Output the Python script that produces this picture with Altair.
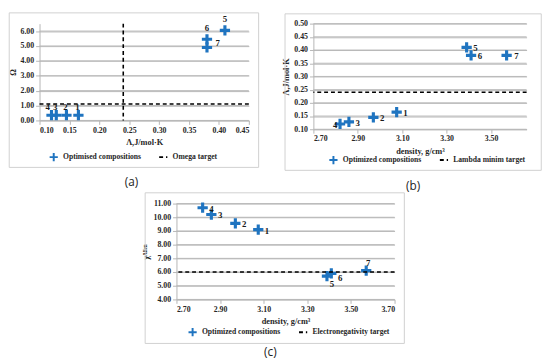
import altair as alt
import pandas as pd

# ---- data ----
ids = ["1", "2", "3", "4", "5", "6", "7"]
lambda_vals = [0.165, 0.145, 0.128, 0.120, 0.41, 0.38, 0.38]
omega_vals = [0.35, 0.35, 0.35, 0.35, 6.05, 5.45, 4.90]
density_vals = [3.075, 2.97, 2.86, 2.82, 3.39, 3.41, 3.57]
chi_vals = [9.10, 9.55, 10.20, 10.70, 5.70, 5.90, 6.10]

omega_target_h = [1.1]
omega_target_v = [0.24]
lambda_target = [0.24]
chi_target = [6.0]

x_ticks_a = [0.10, 0.15, 0.20, 0.25, 0.30, 0.35, 0.40, 0.45]
y_ticks_a = [0, 1, 2, 3, 4, 5, 6]
x_ticks_b = [2.70, 2.90, 3.10, 3.30, 3.50]
y_ticks_b = [0.10, 0.15, 0.20, 0.25, 0.30, 0.35, 0.40, 0.45, 0.50]
x_ticks_c = [2.70, 2.90, 3.10, 3.30, 3.50, 3.70]
y_ticks_c = [4, 5, 6, 7, 8, 9, 10, 11]

BLUE = "#1f74c0"
AXIS = "#b5b5b5"
GRID = "#b8b8b8"
FRAME = "#d0d0d0"
FONT = "Liberation Serif"
PLUS = "M-1,0H1M0,-1V1"


def axis(values, title, tpad, grid):
    return alt.Axis(values=values, tickCount=len(values), format=".2f", title=title,
                    grid=grid, gridColor=GRID, gridWidth=1, labelOverlap=False,
                    domainColor=AXIS, tickColor=AXIS,
                    tickSize=4, labelFont=FONT, labelFontWeight="bold",
                    labelFontSize=8, labelColor="#262626", labelPadding=2,
                    titleFont=FONT, titleFontWeight="bold", titleFontSize=8.5,
                    titleColor="#262626", titlePadding=tpad)


def panel(xs, ys, xdom, xvals, ydom, yvals, xtitle, ytitle, pts_name,
          tgt_name, h_rules, v_rules, w, h, frame, label_groups, caption,
          cap_x, cap_y, leg_x, leg_y, ytpad):
    df = pd.DataFrame({"x": xs, "y": ys, "id": ids, "series": pts_name})
    dom = [pts_name, tgt_name]
    leg = alt.Legend(title=None, orient="none", legendX=leg_x, legendY=leg_y,
                     direction="horizontal", symbolSize=70, gridAlign="none",
                     symbolStrokeWidth=2, labelFont=FONT, labelOffset=4,
                     labelFontWeight="bold", labelFontSize=7.8,
                     labelColor="#262626", columnPadding=14)
    color = alt.Color("series:N", scale=alt.Scale(domain=dom, range=[BLUE, "black"]), legend=leg)
    shape = alt.Shape("series:N", scale=alt.Scale(domain=dom, range=[PLUS, "stroke"]), legend=leg)
    dash = alt.StrokeDash("series:N", scale=alt.Scale(domain=dom, range=[[1, 0], [4, 3]]), legend=leg)

    X = alt.X("x:Q", scale=alt.Scale(domain=xdom, nice=False, zero=False),
              axis=axis(xvals, xtitle, 4, False))
    Y = alt.Y("y:Q", scale=alt.Scale(domain=ydom, nice=False, zero=False),
              axis=axis(yvals, ytitle, ytpad, True))

    base = alt.Chart(df)
    layers = []
    fl, fr, ft, fb = frame
    one = pd.DataFrame({"k": [0]})

    grid_df = pd.DataFrame({"gy": yvals})
    layers.append(alt.Chart(grid_df).mark_rule(color=GRID, strokeWidth=1).encode(
        y=alt.Y("gy:Q", scale=alt.Scale(domain=ydom, nice=False, zero=False),
                axis=axis(yvals, ytitle, ytpad, True))))

    layers.append(base.mark_point(filled=False, strokeWidth=3.2, size=110, opacity=1).encode(
        x=X, y=Y, color=color, shape=shape))

    if h_rules:
        hr = pd.DataFrame({"y": h_rules, "series": tgt_name})
        layers.append(alt.Chart(hr).mark_rule(strokeWidth=1.6).encode(
            y=Y, color=color, strokeDash=dash))
    if v_rules:
        vr = pd.DataFrame({"x": v_rules, "series": tgt_name})
        layers.append(alt.Chart(vr).mark_rule(strokeWidth=1.6).encode(
            x=X, color=color, strokeDash=dash))

    for grp, dx, dy in label_groups:
        layers.append(base.transform_filter(alt.FieldOneOfPredicate(field="id", oneOf=grp)).mark_text(
            font=FONT, fontWeight="bold", fontSize=9, color="#1a1a1a", dx=dx, dy=dy).encode(
            x=X, y=Y, text="id:N"))

    layers.append(alt.Chart(one).mark_text(font="Open Sans", fontSize=12, color="#222222").encode(
        x=alt.value(cap_x), y=alt.value(cap_y), text=alt.value(caption)))

    layers.append(alt.Chart(one).mark_rect(filled=False, stroke=FRAME, strokeWidth=1).encode(
        x=alt.value(fl), x2=alt.value(w + fr), y=alt.value(ft), y2=alt.value(h + fb)))

    return alt.layer(*layers).properties(width=w, height=h)


wa, ha = 214, 99
pa = panel(lambda_vals, omega_vals, [0.10, 0.45], x_ticks_a, [0, 6.5], y_ticks_a,
           "Λ,J/mol·K", "Ω", "Optimised compositions", "Omega target",
           omega_target_h, omega_target_v, wa, ha, (-31, 10, -11, 48),
           [(["1", "2", "3"], -1, -8), (["4"], -4, -8), (["5"], 0, -12), (["6"], 0, -11), (["7"], 11, -4)],
           "(a)", 94, ha + 63, 9, ha + 32, 3)

wb, hb = 218, 108
pb = panel(density_vals, lambda_vals, [2.70, 3.66], x_ticks_b, [0.10, 0.50], y_ticks_b,
           "density, g/cm³", "Λ,J/mol·K", "Optimized compositions", "Lambda minim target",
           lambda_target, None, wb, hb, (-29, 15, -10, 42),
           [(["1", "2", "3", "5", "6"], 9, 1), (["7"], 10, 1), (["4"], -5, 1)],
           "(b)", 102, hb + 58, 15, hb + 26, 3)

wc, hc = 223, 98
pc = panel(density_vals, chi_vals, [2.70, 3.70], x_ticks_c, [4, 11], y_ticks_c,
           "density, g/cm³", "χᴬˡˡᵉⁿ", "Optimized compositions", "Electronegativity target",
           chi_target, None, wc, hc, (-32, 10, -11, 45),
           [(["1", "2", "3", "4"], 9, 1), (["5"], 5, 8), (["6"], 9, 5), (["7"], 2, -8)],
           "(c)", 96, hc + 54, 11, hc + 28, 3)

ind = dict(color="independent", shape="independent", strokeDash="independent",
           x="independent", y="independent")
top = alt.hconcat(pa, pb, spacing=23).resolve_scale(**ind).resolve_legend(
    color="independent", shape="independent", strokeDash="independent")
chart = alt.vconcat(top, pc, spacing=0, center=True).resolve_scale(**ind).resolve_legend(
    color="independent", shape="independent", strokeDash="independent").properties(
    padding=0, background="white"
).configure_view(stroke=None)

chart.save("out.html", embed_options={"renderer": "svg", "actions": False})
